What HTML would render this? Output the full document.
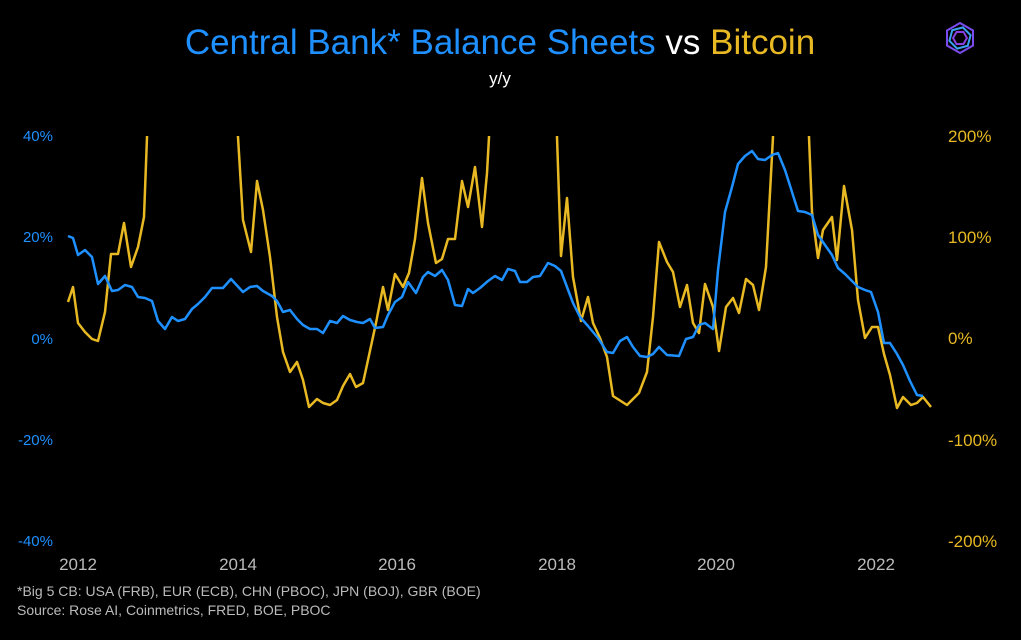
<!DOCTYPE html>
<html><head><meta charset="utf-8"><style>
html,body{margin:0;padding:0;background:#000;}
body{width:1021px;height:635px;overflow:hidden;font-family:"Liberation Sans",sans-serif;}
</style></head><body>
<svg width="1021" height="635" viewBox="0 0 1021 635" xmlns="http://www.w3.org/2000/svg" font-family="Liberation Sans, sans-serif">
<rect width="1021" height="635" fill="#000"/>
<text x="500" y="54" text-anchor="middle" font-size="35" fill="#1e90ff">Central Bank* Balance Sheets <tspan fill="#fff">vs</tspan> <tspan fill="#e8b923">Bitcoin</tspan></text>
<text x="500" y="84" text-anchor="middle" font-size="17" fill="#fff">y/y</text>
<g font-size="15" fill="#1e90ff" text-anchor="end">
<text x="53" y="141">40%</text><text x="53" y="242">20%</text><text x="53" y="344">0%</text><text x="53" y="445">-20%</text><text x="53" y="546">-40%</text>
</g>
<g font-size="17" fill="#e8b923" text-anchor="start">
<text x="948" y="142">200%</text><text x="948" y="243">100%</text><text x="948" y="344">0%</text><text x="948" y="446">-100%</text><text x="948" y="547">-200%</text>
</g>
<g font-size="17" fill="#bbb" text-anchor="middle">
<text x="78" y="570">2012</text><text x="238" y="570">2014</text><text x="397" y="570">2016</text><text x="557" y="570">2018</text><text x="716" y="570">2020</text><text x="876" y="570">2022</text>
</g>
<text x="17" y="596" font-size="14" fill="#bbb">*Big 5 CB: USA (FRB), EUR (ECB), CHN (PBOC), JPN (BOJ), GBR (BOE)</text>
<text x="17" y="615" font-size="14" fill="#bbb">Source: Rose AI, Coinmetrics, FRED, BOE, PBOC</text>
<defs><clipPath id="c"><rect x="60" y="136" width="880" height="420"/></clipPath></defs>
<g clip-path="url(#c)" fill="none" stroke-width="2.5" stroke-linejoin="round">
<polyline stroke="#e8b923" points="68,302 73,287 78,323 85,332 92,339 98,341 105,312 111,254 118,254 124,223 131,267 138,247 144,217 147,137 148,100 236,100 238,137 243,220 251,252 257,181 263,210 270,257 277,317 283,352 290,372 297,362 303,380 309,407 317,399 323,403 330,405 337,400 343,386 350,374 356,387 363,383 368,360 376,323 383,287 388,310 395,274 403,287 409,273 415,239 422,178 428,223 436,263 442,259 448,239 455,239 462,181 468,207 475,167 482,227 487,173 489,137 490,100 556,100 557,137 561,256 567,198 573,277 581,321 588,297 593,323 600,338 607,357 613,396 627,405 639,393 647,372 653,317 659,242 667,262 673,272 680,307 687,285 693,323 699,333 705,284 713,307 719,351 726,307 733,298 739,313 746,279 753,285 759,310 766,267 773,137 774,100 808,100 809,137 812,212 818,258 823,230 832,217 837,260 844,186 852,230 858,300 865,338 872,327 878,327 884,354 890,375 897,408 903,397 911,405 917,403 923,397 931,407"/>
<polyline stroke="#1e90ff" points="68,236 73,238 78,255 85,250 92,257 98,284 105,276 112,291 118,290 125,285 132,287 138,297 145,298 152,301 158,321 165,329 172,317 178,321 185,319 192,309 198,304 205,297 212,288 223,288 231,279 243,292 250,287 257,286 263,291 272,296 277,301 283,312 290,310 297,319 303,325 310,329 317,329 323,333 330,321 337,323 343,316 350,320 357,322 363,323 370,319 375,328 383,327 388,315 395,302 402,297 408,282 416,293 423,277 428,272 435,276 442,270 448,280 455,305 462,306 468,289 473,293 480,288 488,281 495,276 502,280 508,269 515,271 520,282 527,282 533,277 540,276 548,263 555,266 561,271 567,287 573,303 580,317 588,326 598,338 607,352 613,353 620,341 627,337 633,347 640,356 647,357 653,354 659,347 667,355 679,356 686,339 693,337 699,325 705,323 713,329 718,270 725,212 732,187 738,164 745,156 752,151 758,159 765,160 772,155 778,153 785,170 792,192 798,211 805,212 812,215 818,235 825,245 832,255 838,268 845,274 852,281 858,287 865,290 871,292 878,312 884,343 890,343 897,354 903,365 910,381 917,395 923,396"/>
</g>
<g transform="translate(960,38)" fill="none" stroke-width="2">
<polygon points="0,-15 13,-7.5 13,7.5 0,15 -13,7.5 -13,-7.5" stroke="#7a4cf0"/>
<polygon points="0,-11 9.5,-5.5 9.5,5.5 0,11 -9.5,5.5 -9.5,-5.5" stroke="#3aa0f0" transform="rotate(15)"/>
<polygon points="0,-7 6,-3.5 6,3.5 0,7 -6,3.5 -6,-3.5" stroke="#8a40e0" transform="rotate(30)"/>
</g>
</svg>
</body></html>
